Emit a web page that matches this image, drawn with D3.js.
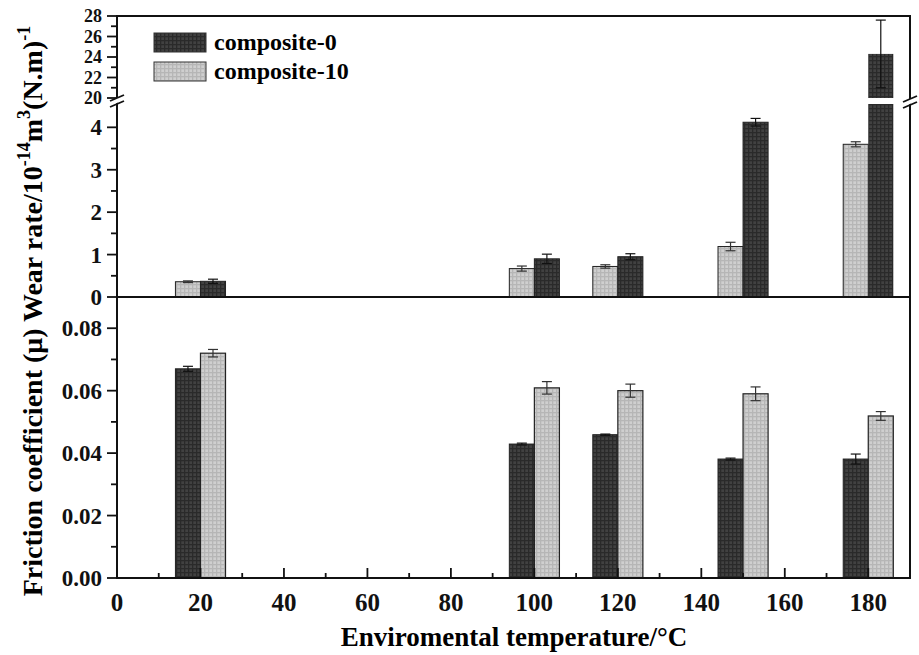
<!DOCTYPE html>
<html>
<head>
<meta charset="utf-8">
<script src="https://cdn.jsdelivr.net/npm/d3@7"></script>
<style>
  body { margin: 0; background: #fff; }
</style>
</head>
<body>
<div id="chart"></div>
<script>
// data
const temps = [20, 100, 120, 150, 180];
const wearC0 = [0.37, 0.90, 0.95, 4.12, 24.3];
const wearC0Err = [0.05, 0.11, 0.07, 0.09, 3.3];
const wearC10 = [0.36, 0.67, 0.72, 1.19, 3.60];
const wearC10Err = [0.02, 0.06, 0.04, 0.10, 0.06];
const fricC0 = [0.067, 0.0429, 0.0459, 0.0381, 0.0381];
const fricC0Err = [0.0008, 0.0003, 0.0002, 0.0003, 0.0016];
const fricC10 = [0.072, 0.0609, 0.0600, 0.0590, 0.0519];
const fricC10Err = [0.0012, 0.0020, 0.0021, 0.0022, 0.0014];
const seriesNames = ["composite-0", "composite-10"];

const width = 919, height = 655;
const barW = 6; // in temperature units
const fontFam = "'Liberation Serif', 'DejaVu Serif', serif";

const svg = d3.select("#chart").append("svg")
    .attr("width", width)
    .attr("height", height)
    .attr("font-family", fontFam)
    .attr("font-weight", "bold");

// checker patterns for the bar fills
const defs = svg.append("defs");
function makePattern(id, base, line) {
    const p = defs.append("pattern")
        .attr("id", id)
        .attr("width", 4).attr("height", 4)
        .attr("patternUnits", "userSpaceOnUse");
    p.append("rect").attr("width", 4).attr("height", 4).attr("fill", base);
    p.append("rect").attr("width", 4).attr("height", 1.3).attr("fill", line);
    p.append("rect").attr("width", 1.3).attr("height", 4).attr("fill", line);
}
makePattern("dark", "#414141", "#2a2a2a");
makePattern("light", "#cfcfcf", "#b6b6b6");
const fills = { c0: "url(#dark)", c10: "url(#light)" };

// scales
const x = d3.scaleLinear().domain([0, 190]).range([117, 910]);
const yLow = d3.scaleLinear().domain([0, 4.55]).range([297, 104]);
const yHigh = d3.scaleLinear().domain([20, 28]).range([98, 16]);
const yF = d3.scaleLinear().domain([0, 0.09]).range([578, 297]);

const ink = "#111";

// ---- bars: wear rate (top panel, composite-10 left, composite-0 right)
const wearG = svg.append("g");
function wearBar(x0, val, fill) {
    if (val <= 4.55) {
        wearG.append("rect")
            .attr("x", x(x0)).attr("y", yLow(val))
            .attr("width", x(x0 + barW) - x(x0)).attr("height", yLow(0) - yLow(val))
            .attr("fill", fill).attr("stroke", "#222").attr("stroke-width", 1);
    } else {
        wearG.append("rect")
            .attr("x", x(x0)).attr("y", yLow(4.55))
            .attr("width", x(x0 + barW) - x(x0)).attr("height", yLow(0) - yLow(4.55))
            .attr("fill", fill);
        wearG.append("rect")
            .attr("x", x(x0)).attr("y", yHigh(val))
            .attr("width", x(x0 + barW) - x(x0)).attr("height", yHigh(20) - yHigh(val))
            .attr("fill", fill);
    }
}
function errBar(g, cx, lo, hi, color) {
    g.append("line").attr("x1", cx).attr("x2", cx).attr("y1", lo).attr("y2", hi)
        .attr("stroke", color).attr("stroke-width", 1.2);
    [lo, hi].forEach(yy => g.append("line")
        .attr("x1", cx - 5).attr("x2", cx + 5).attr("y1", yy).attr("y2", yy)
        .attr("stroke", color).attr("stroke-width", 1.2));
}
function wearY(v) { return v > 4.55 ? yHigh(v) : yLow(v); }

temps.forEach((t, i) => {
    wearBar(t - barW, wearC10[i], fills.c10);
    wearBar(t, wearC0[i], fills.c0);
    errBar(wearG, x(t - barW / 2), wearY(wearC10[i] - wearC10Err[i]), wearY(wearC10[i] + wearC10Err[i]), "#333");
    errBar(wearG, x(t + barW / 2), wearY(wearC0[i] - wearC0Err[i]), wearY(wearC0[i] + wearC0Err[i]), "#111");
});

// ---- bars: friction (bottom panel, composite-0 left, composite-10 right)
const fricG = svg.append("g");
temps.forEach((t, i) => {
    fricG.append("rect")
        .attr("x", x(t - barW)).attr("y", yF(fricC0[i]))
        .attr("width", x(t) - x(t - barW)).attr("height", yF(0) - yF(fricC0[i]))
        .attr("fill", fills.c0).attr("stroke", "#222").attr("stroke-width", 1);
    fricG.append("rect")
        .attr("x", x(t)).attr("y", yF(fricC10[i]))
        .attr("width", x(t + barW) - x(t)).attr("height", yF(0) - yF(fricC10[i]))
        .attr("fill", fills.c10).attr("stroke", "#222").attr("stroke-width", 1.2);
    errBar(fricG, x(t - barW / 2), yF(fricC0[i] - fricC0Err[i]), yF(fricC0[i] + fricC0Err[i]), "#111");
    errBar(fricG, x(t + barW / 2), yF(fricC10[i] - fricC10Err[i]), yF(fricC10[i] + fricC10Err[i]), "#333");
});

// ---- axes
const axes = svg.append("g").attr("stroke", ink).attr("stroke-width", 2).attr("fill", "none");
axes.append("line").attr("x1", 117).attr("x2", 117).attr("y1", 15).attr("y2", 579);
axes.append("line").attr("x1", 910).attr("x2", 910).attr("y1", 15).attr("y2", 579);
axes.append("line").attr("x1", 116).attr("x2", 911).attr("y1", 16).attr("y2", 16);
axes.append("line").attr("x1", 116).attr("x2", 911).attr("y1", yLow(0)).attr("y2", yLow(0));
axes.append("line").attr("x1", 116).attr("x2", 911).attr("y1", yF(0)).attr("y2", yF(0));

// axis break marks
function breakMark(cx, cy) {
    svg.append("polygon")
        .attr("points", `${cx - 6},${cy + 5} ${cx + 6},${cy - 1} ${cx + 6},${cy - 6} ${cx - 6},${cy}`)
        .attr("fill", "#fff");
    [-3, 3].forEach(o => svg.append("line")
        .attr("x1", cx - 7).attr("y1", cy + o + 3).attr("x2", cx + 7).attr("y2", cy + o - 3)
        .attr("stroke", ink).attr("stroke-width", 1.8));
}
breakMark(117, 101);
breakMark(910, 102);

// ticks
const tickG = svg.append("g").attr("stroke", ink).attr("stroke-width", 1.8);
function yTick(yy, len) {
    tickG.append("line").attr("x1", 117 - len).attr("x2", 117).attr("y1", yy).attr("y2", yy);
}
const wearLowTicks = [0, 1, 2, 3, 4];
const wearLowMinor = [0.5, 1.5, 2.5, 3.5];
const wearHighTicks = [20, 22, 24, 26, 28];
const wearHighMinor = [21, 23, 25, 27];
const fricTicks = [0, 0.02, 0.04, 0.06, 0.08];
const fricMinor = [0.01, 0.03, 0.05, 0.07];
const xTicks = [0, 20, 40, 60, 80, 100, 120, 140, 160, 180];
const xMinor = [10, 30, 50, 70, 90, 110, 130, 150, 170];

wearLowTicks.forEach(v => yTick(yLow(v), 10));
wearLowMinor.forEach(v => yTick(yLow(v), 6));
wearHighTicks.forEach(v => yTick(yHigh(v), 10));
wearHighMinor.forEach(v => yTick(yHigh(v), 6));
fricTicks.forEach(v => yTick(yF(v), 10));
fricMinor.forEach(v => yTick(yF(v), 6));
xTicks.forEach(v => tickG.append("line").attr("x1", x(v)).attr("x2", x(v)).attr("y1", yF(0)).attr("y2", yF(0) - 10));
xMinor.forEach(v => tickG.append("line").attr("x1", x(v)).attr("x2", x(v)).attr("y1", yF(0)).attr("y2", yF(0) - 5));

// tick labels
const lab = svg.append("g").attr("fill", ink).attr("font-size", 23);
wearLowTicks.forEach(v => lab.append("text").attr("x", 102).attr("y", yLow(v) + 8)
    .attr("text-anchor", "end").text(v));
wearHighTicks.forEach(v => lab.append("text").attr("x", 102).attr("y", yHigh(v) + 6)
    .attr("text-anchor", "end").attr("font-size", 18).text(v));
fricTicks.forEach(v => lab.append("text").attr("x", 102).attr("y", yF(v) + 8)
    .attr("text-anchor", "end").text(v.toFixed(2)));
xTicks.forEach(v => lab.append("text").attr("x", x(v)).attr("y", 611)
    .attr("text-anchor", "middle").attr("font-size", 25).text(v));

// axis titles
svg.append("text")
    .attr("x", 514).attr("y", 646)
    .attr("text-anchor", "middle")
    .attr("font-size", 27)
    .text("Enviromental temperature/°C");

const yt = svg.append("text")
    .attr("transform", "translate(42,311) rotate(-90)")
    .attr("text-anchor", "middle")
    .attr("font-size", 28);
yt.append("tspan").text("Friction coefficient (μ) Wear rate/10");
yt.append("tspan").attr("dy", -12).attr("font-size", 18).text("-14");
yt.append("tspan").attr("dy", 12).text("m");
yt.append("tspan").attr("dy", -12).attr("font-size", 18).text("3");
yt.append("tspan").attr("dy", 12).text("(N.m)");
yt.append("tspan").attr("dy", -12).attr("font-size", 18).text("-1");

// legend
const legend = svg.append("g");
seriesNames.forEach((name, i) => {
    legend.append("rect")
        .attr("x", 154).attr("y", 33 + i * 29)
        .attr("width", 52).attr("height", 19)
        .attr("fill", i === 0 ? fills.c0 : fills.c10)
        .attr("stroke", "#333").attr("stroke-width", 1);
    legend.append("text")
        .attr("x", 214).attr("y", 50 + i * 29)
        .attr("font-size", 24)
        .text(name);
});
</script>
</body>
</html>
